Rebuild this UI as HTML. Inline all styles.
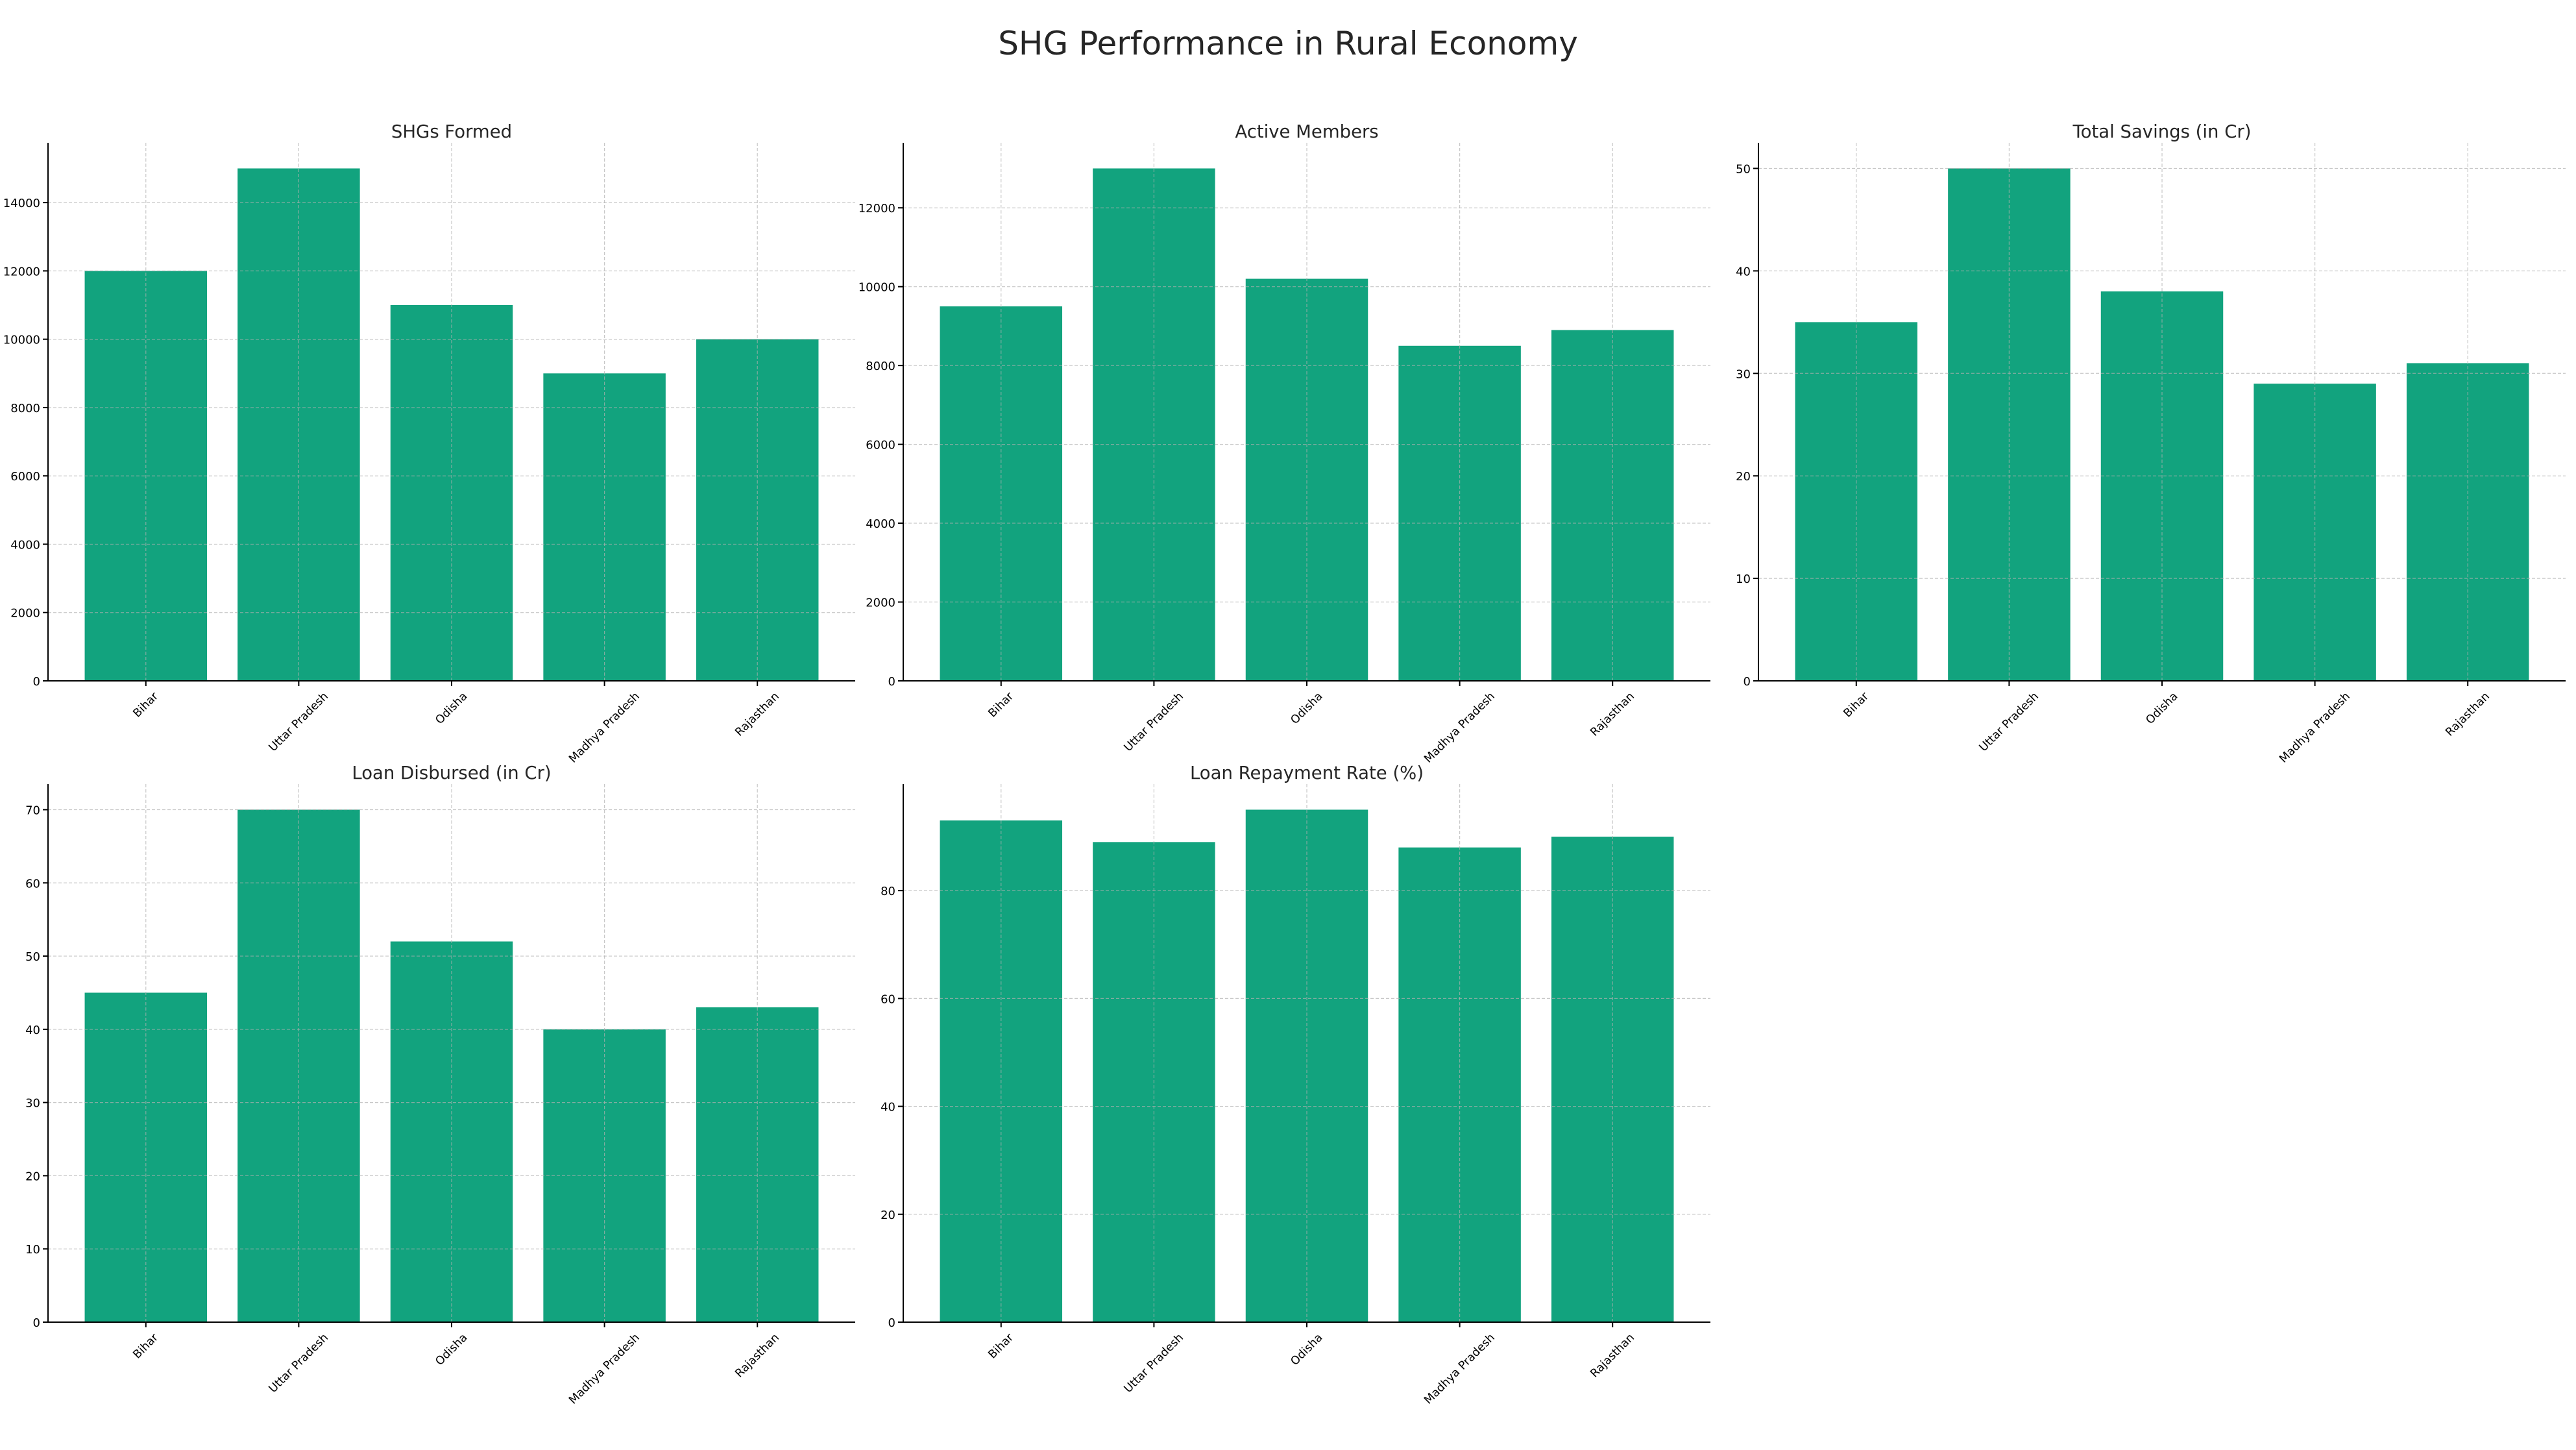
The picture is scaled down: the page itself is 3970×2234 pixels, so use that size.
<!DOCTYPE html>
<html><head><meta charset="utf-8"><style>
html,body{margin:0;padding:0;background:#fff;}
svg{display:block;font-family:"DejaVu Sans","Liberation Sans",sans-serif;}
</style></head><body>
<svg id="chart" width="3970" height="2234" viewBox="0 0 3970 2234" xmlns="http://www.w3.org/2000/svg">
<rect width="3970" height="2234" fill="#fff"/>
<text x="1985" y="84" font-size="50" text-anchor="middle" fill="#262626">SHG Performance in Rural Economy</text>
</svg>
<script>
const categories = ["Bihar","Uttar Pradesh","Odisha","Madhya Pradesh","Rajasthan"];
const shgsFormed = [12000,15000,11000,9000,10000];
const activeMembers = [9500,13000,10200,8500,8900];
const totalSavings = [35,50,38,29,31];
const loanDisbursed = [45,70,52,40,43];
const repaymentRate = [93,89,95,88,90];
const titles = ["SHGs Formed","Active Members","Total Savings (in Cr)","Loan Disbursed (in Cr)","Loan Repayment Rate (%)"];
const tickSets = [
  [0,2000,4000,6000,8000,10000,12000,14000],
  [0,2000,4000,6000,8000,10000,12000],
  [0,10,20,30,40,50],
  [0,10,20,30,40,50,60,70],
  [0,20,40,60,80]
];
const seriesList = [shgsFormed,activeMembers,totalSavings,loanDisbursed,repaymentRate];
const slugs = ["shgs-formed","active-members","total-savings","loan-disbursed","repayment-rate"];

const NS = "http://www.w3.org/2000/svg";
const svg = document.getElementById('chart');
function mk(tag, attrs, parent){
  const e = document.createElementNS(NS, tag);
  for (const k in attrs) e.setAttribute(k, attrs[k]);
  (parent||svg).appendChild(e);
  return e;
}
const colX = [74,1392,2710], rowY = [220,1208];
const W = 1244, H = 829;

seriesList.forEach((vals, i) => {
  const px = colX[i%3], py = rowY[Math.floor(i/3)];
  const g = mk('g', {});
  
  
  const ymax = Math.max(...vals) * 1.05;
  const n = categories.length;
  const xmin = -0.4 - 0.05*(n-1+0.8), xmax = n-1+0.4 + 0.05*(n-1+0.8);
  const xs = v => px + (v - xmin) / (xmax - xmin) * W;
  const ys = v => py + H - v / ymax * H;
  const base = py + H;
  vals.forEach((v, j) => {
    const r = mk('rect', {x: xs(j-0.4), y: ys(v), width: xs(j+0.4)-xs(j-0.4), height: base - ys(v), fill: '#12a37e'}, g);
    
    
  });
  tickSets[i].forEach(t => {
    const l = mk('line', {x1: px, x2: px+W, y1: ys(t), y2: ys(t), stroke: '#b0b0b0', 'stroke-width': 1.2, 'stroke-dasharray': '5,3', opacity: 0.7}, g);
    
    
    mk('line', {x1: px-8, x2: px, y1: ys(t), y2: ys(t), stroke: '#000', 'stroke-width': 2}, g);
    const tx = mk('text', {x: px-12, y: ys(t)+7, 'font-size': 18, 'text-anchor': 'end', fill: '#000'}, g);
    tx.textContent = t;
    
    
  });
  categories.forEach((c, j) => {
    const l = mk('line', {x1: xs(j), x2: xs(j), y1: py, y2: base, stroke: '#b0b0b0', 'stroke-width': 1.2, 'stroke-dasharray': '5,3', opacity: 0.7}, g);
    
    
    mk('line', {x1: xs(j), x2: xs(j), y1: base, y2: base+8, stroke: '#000', 'stroke-width': 2}, g);
    const tx = mk('text', {'font-size': 17.5, 'text-anchor': 'middle', 'dominant-baseline': 'central', fill: '#000'}, g);
    tx.textContent = c;
    
    
    const w = tx.getComputedTextLength();
    const cy = base + 14 + (w + 20) * 0.7071 / 2;
    tx.setAttribute('x', xs(j)); tx.setAttribute('y', cy);
    tx.setAttribute('transform', `rotate(-45 ${xs(j)} ${cy})`);
  });
  const sl = mk('line', {x1: px, x2: px, y1: py, y2: base, stroke: '#000', 'stroke-width': 2}, g);
  
  
  const sb = mk('line', {x1: px, x2: px+W, y1: base, y2: base, stroke: '#000', 'stroke-width': 2}, g);
  
  
  const tt = mk('text', {x: px + W/2, y: py - 8, 'font-size': 27.5, 'text-anchor': 'middle', fill: '#262626'}, g);
  tt.textContent = titles[i];
  
  
});
</script>
</body></html>
